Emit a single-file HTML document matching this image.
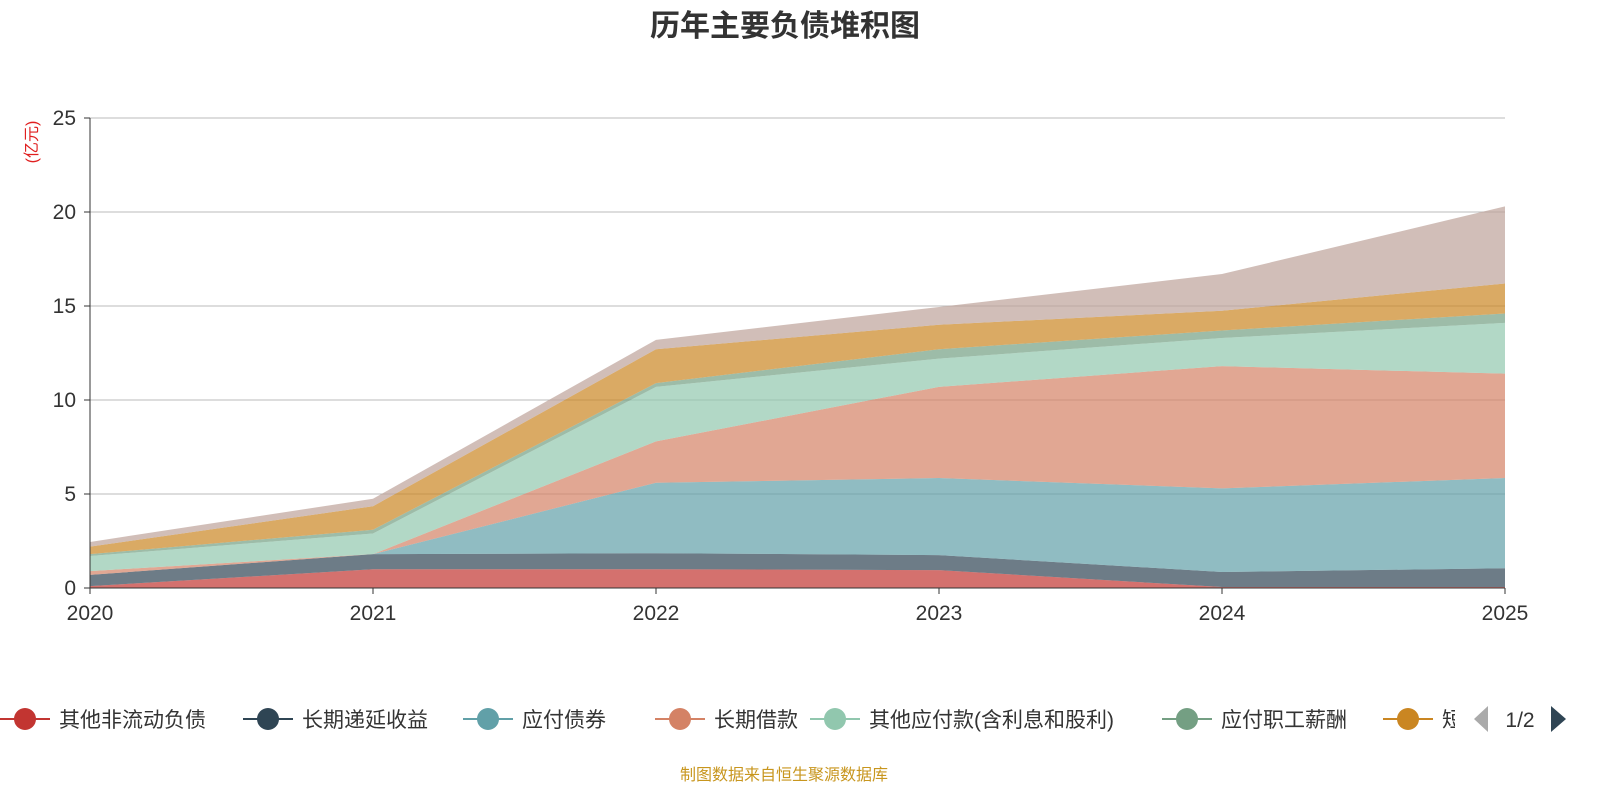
<!DOCTYPE html>
<html><head><meta charset="utf-8">
<style>
body{margin:0;background:#fff;font-family:"Liberation Sans","Noto Sans CJK SC",sans-serif;}
svg text{font-family:"Liberation Sans","Noto Sans CJK SC",sans-serif;}
</style></head>
<body>
<svg id="c" width="1600" height="800">
<text x="785" y="36" text-anchor="middle" font-size="30" font-weight="bold" fill="#333">历年主要负债堆积图</text>
<text transform="translate(37,142) rotate(-90)" text-anchor="middle" font-size="16" fill="#e02020">(亿元)</text>
<g id="grid"></g><g id="areas"></g><g id="axes"></g>
<g id="legend" clip-path="url(#lc)"></g>
<clipPath id="lc"><rect x="0" y="690" width="1455" height="60"/></clipPath>
<path d="M1488,706 L1488,732 L1474,719 Z" fill="#aaa"/>
<text x="1520" y="727" text-anchor="middle" font-size="21" fill="#333">1/2</text>
<path d="M1551,706 L1551,732 L1566,719 Z" fill="#2f4554"/>
<text x="784" y="780" text-anchor="middle" font-size="16" fill="#c8961e">制图数据来自恒生聚源数据库</text>
</svg>
<script>
const years=['2020','2021','2022','2023','2024','2025'];
const names=['其他非流动负债','长期递延收益','应付债券','长期借款','其他应付款(含利息和股利)','应付职工薪酬','短期借款','应付账款'];
const s1=[0.1,1.0,1.0,0.95,0.05,0.05];
const s2=[0.6,0.8,0.85,0.8,0.8,1.0];
const s3=[0,0,3.75,4.1,4.45,4.8];
const s4=[0.2,0,2.2,4.85,6.5,5.55];
const s5=[0.8,1.1,2.9,1.5,1.5,2.7];
const s6=[0.1,0.2,0.2,0.5,0.4,0.5];
const s7=[0.4,1.25,1.8,1.3,1.05,1.6];
const s8=[0.25,0.4,0.5,0.95,1.95,4.1];
const yTicks=[0,5,10,15,20,25];
const series=[s1,s2,s3,s4,s5,s6,s7,s8];
const colors=['#c23531','#2f4554','#61a0a8','#d48265','#91c7ae','#749f83','#ca8622','#bda29a'];
const NS='http://www.w3.org/2000/svg';
const X=i=>90+i*(1505-90)/(years.length-1);
const Y=v=>588-v*(588-118)/25;
function mk(t,a,p){const e=document.createElementNS(NS,t);for(const k in a)e.setAttribute(k,a[k]);document.getElementById(p).appendChild(e);return e;}
yTicks.forEach(t=>{
 if(t>0){const l=mk('line',{x1:90,x2:1505,y1:Y(t),y2:Y(t),stroke:'#bbb','stroke-width':1},'grid');
 
 }
 const tx=mk('text',{x:76,y:Y(t)+7,'text-anchor':'end','font-size':21,fill:'#333'},'axes');tx.textContent=t;
 
 
 mk('line',{x1:84,x2:90,y1:Y(t),y2:Y(t),stroke:'#333'},'axes');
});
let base=years.map(()=>0);
series.forEach((s,k)=>{
 const top=base.map((b,i)=>b+s[i]);
 let d='M'+top.map((v,i)=>X(i)+','+Y(v)).join(' L');
 for(let i=years.length-1;i>=0;i--)d+=' L'+X(i)+','+Y(base[i]);
 const p=mk('path',{d:d+'Z',fill:colors[k],'fill-opacity':0.7},'areas');
 
 
 base=top;
});
mk('line',{x1:90,x2:90,y1:118,y2:588,stroke:'#333'},'axes');
mk('line',{x1:90,x2:1505,y1:588,y2:588,stroke:'#333'},'axes');
years.forEach((y,i)=>{
 mk('line',{x1:X(i),x2:X(i),y1:588,y2:594,stroke:'#333'},'axes');
 const t=mk('text',{x:X(i),y:620,'text-anchor':'middle','font-size':21,fill:'#333'},'axes');t.textContent=y;
 
 
});
const lx=[25,268,488,680,835,1187,1408,1640];
names.forEach((n,k)=>{
 const g=mk('g',{},'legend');
 
 
 const x=lx[k];
 const l=document.createElementNS(NS,'line');l.setAttribute('x1',x-25);l.setAttribute('x2',x+25);l.setAttribute('y1',719);l.setAttribute('y2',719);l.setAttribute('stroke',colors[k]);l.setAttribute('stroke-width',2);g.appendChild(l);
 const c=document.createElementNS(NS,'circle');c.setAttribute('cx',x);c.setAttribute('cy',719);c.setAttribute('r',11);c.setAttribute('fill',colors[k]);g.appendChild(c);
 const t=document.createElementNS(NS,'text');t.setAttribute('x',x+34);t.setAttribute('y',727);t.setAttribute('font-size',21);t.setAttribute('fill','#333');t.textContent=n;g.appendChild(t);
});
</script>
</body></html>
